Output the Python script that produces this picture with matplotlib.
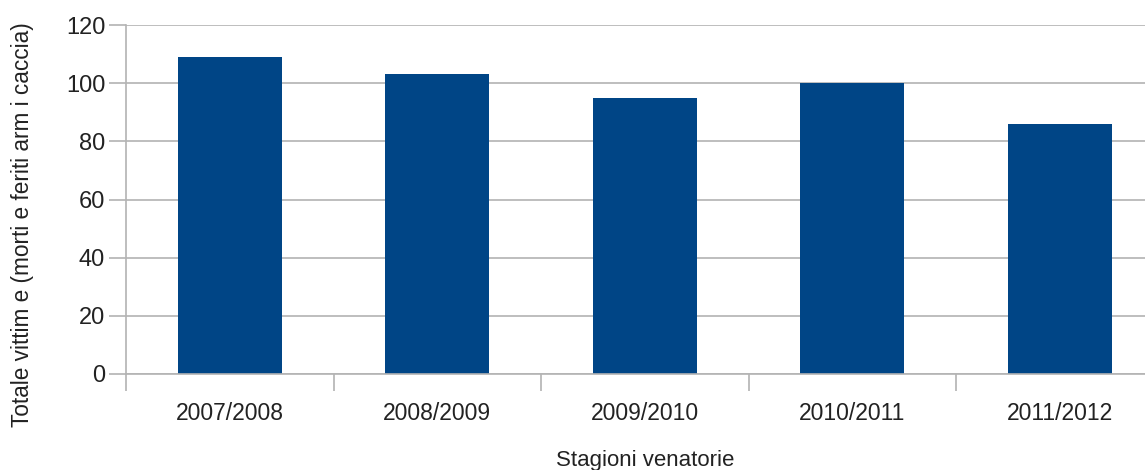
import matplotlib
matplotlib.use("Agg")
import matplotlib.pyplot as plt
import numpy as np

categories = ["2007/2008", "2008/2009", "2009/2010", "2010/2011", "2011/2012"]
values = [109, 103, 95, 100, 86]
y_ticks = [0, 20, 40, 60, 80, 100, 120]

plt.rcParams['font.family'] = ['Liberation Sans', 'DejaVu Sans']

W, H = 1145, 470
fig = plt.figure(figsize=(W / 100, H / 100), dpi=100)
left, right, top, bottom = 126, 1163.5, 25, 374
ax = fig.add_axes([left / W, (H - bottom) / H, (right - left) / W, (bottom - top) / H])

x = np.arange(len(categories))
ax.bar(x, values, width=0.5, color="#004586", zorder=3)

ax.set_xlim(-0.5, len(categories) - 0.5)
ax.set_ylim(0, 120)
ax.set_yticks(y_ticks)
ax.set_xticks(x)
ax.set_xticklabels(categories)
ax.set_xticks(np.arange(-0.5, len(categories), 1.0), minor=True)

grid_c = "#b3b3b3"
ax.yaxis.grid(True, color=grid_c, linewidth=1.2, zorder=0)
ax.set_axisbelow(True)
for s in ["top", "right"]:
    ax.spines[s].set_visible(False)
for s in ["left", "bottom"]:
    ax.spines[s].set_color(grid_c)
    ax.spines[s].set_linewidth(1.2)
    ax.spines[s].set_zorder(4)

ax.tick_params(axis="y", length=12, width=1.2, color=grid_c, pad=3,
               labelsize=17, labelcolor="#222222")
ax.tick_params(axis="x", which="major", length=0, pad=20,
               labelsize=16.5, labelcolor="#222222")
ax.tick_params(axis="x", which="minor", length=12, width=1.2, color=grid_c)

ax.set_xlabel("Stagioni venatorie", fontsize=16, color="#222222", labelpad=18)
fig.text(23 / W, 1 - 225 / H, "Totale vittim e (morti e feriti arm i caccia)",
         rotation=90, ha="center", va="center", fontsize=16.3, color="#222222")

fig.savefig("out.png", dpi=100)
